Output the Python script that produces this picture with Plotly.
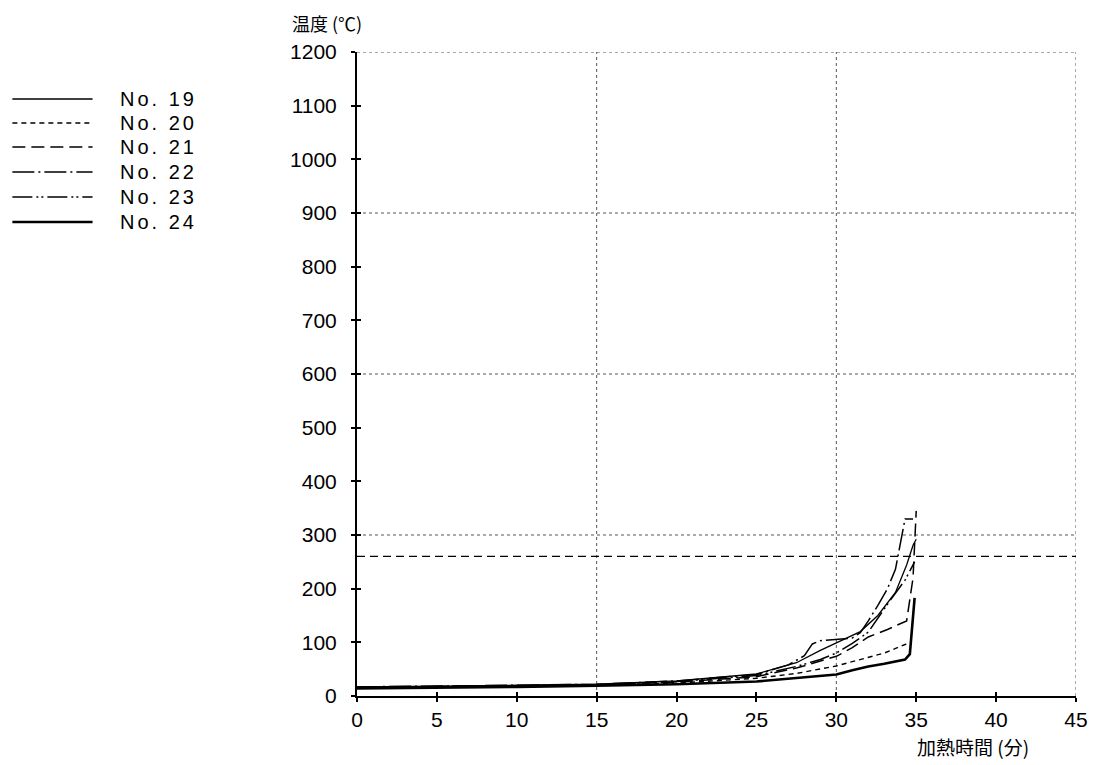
import plotly.graph_objects as go

# ---- data ----
names = ["No. 19", "No. 20", "No. 21", "No. 22", "No. 23", "No. 24"]

t19 = [0, 5, 10, 15, 20, 25, 27.5, 29, 30.6, 31.5, 32.6, 33.7, 34.4, 34.8, 35.0]
T19 = [17, 18, 20, 22, 28, 41, 62, 85, 107, 120, 150, 193, 244, 281, 292]

t20 = [0, 5, 10, 15, 20, 25, 27.5, 30, 31, 32, 33, 34.3, 34.7]
T20 = [15, 16, 18, 20, 24, 33, 42, 56, 64, 72, 80, 96, 100]

t21 = [0, 5, 10, 15, 20, 25, 27.5, 30, 31, 32, 33.2, 34.4, 34.8, 35.0]
T21 = [16, 17, 19, 21, 26, 36, 52, 74, 90, 110, 124, 140, 220, 345]

t22 = [0, 5, 10, 15, 20, 25, 27, 28, 28.5, 29, 30, 31, 31.5, 32, 32.6, 33.2, 33.7, 34.1, 34.3, 34.8]
T22 = [17, 18, 20, 22, 28, 40, 58, 75, 97, 103, 105, 108, 118, 140, 169, 200, 236, 300, 330, 330]

t23 = [0, 5, 10, 15, 20, 25, 27.5, 29, 30, 31, 32, 33.2, 34.3, 34.9]
T23 = [16, 17, 19, 21, 27, 38, 55, 68, 80, 98, 119, 171, 216, 250]

t24 = [0, 5, 10, 15, 20, 25, 27.5, 30, 31, 32, 33, 34.3, 34.6, 34.9]
T24 = [14, 15, 17, 19, 22, 27, 33, 40, 48, 55, 60, 68, 78, 183]

ref_t = [0, 45]
ref_T = [260, 260]

series_t = [t19, t20, t21, t22, t23, t24]
series_T = [T19, T20, T21, T22, T23, T24]

x_ticks = [0, 5, 10, 15, 20, 25, 30, 35, 40, 45]
y_ticks = [0, 100, 200, 300, 400, 500, 600, 700, 800, 900, 1000, 1100, 1200]
grid_x = [15, 30, 45]
grid_y = [300, 600, 900, 1200]

# ---- styles ----
dashes = ["solid", "5px,4px", "13px,6px", "22px,4px,2px,4px",
          "20px,4px,2px,3px,2px,4px", "solid"]
widths = [1.3, 1.4, 1.5, 1.5, 1.5, 2.6]

OFF = 8                      # browser body margin
SCR_W, SCR_H = 1100, 765
X0, X1 = 357, 1083           # screen x of plot left / right
Y0, Y1 = 52, 696             # screen y of plot top / bottom
W, H = SCR_W - OFF, SCR_H - OFF
ML, MR, MT, MB = X0 - OFF, SCR_W - X1, Y0 - OFF, SCR_H - Y1
PW = X1 - X0
PH = Y1 - Y0


def px(xs):
    return (xs - X0) / PW


def py(ys):
    return (Y1 - ys) / PH


NUM_FONT = "Liberation Sans Narrow, Arial Narrow, Liberation Sans, Arial, sans-serif"
CJK_FONT = "Noto Sans CJK JP, Noto Sans CJK SC, sans-serif"

fig = go.Figure()

# reference line
fig.add_trace(go.Scatter(x=ref_t, y=ref_T, mode="lines", showlegend=False,
                         line=dict(color="black", width=1.3, dash="8px,5px"),
                         hoverinfo="skip"))

for n, tt, TT, d, w in zip(names, series_t, series_T, dashes, widths):
    fig.add_trace(go.Scatter(x=tt, y=TT, mode="lines", name=n, showlegend=False,
                             line=dict(color="black", width=w, dash=d)))

# dummy trace for overlay axes (inside ticks)
fig.add_trace(go.Scatter(x=[None], y=[None], xaxis="x2", yaxis="y2",
                         showlegend=False, hoverinfo="skip"))

shapes = []
for gx in grid_x:
    shapes.append(dict(type="line", xref="x", yref="paper", x0=gx, x1=gx, y0=0, y1=1,
                       line=dict(color="#555", width=1, dash="dot"), layer="below"))
for gy in grid_y:
    shapes.append(dict(type="line", xref="paper", yref="y", x0=0, x1=1, y0=gy, y1=gy,
                       line=dict(color="#555", width=1, dash="dot"), layer="below"))

# manual legend
annotations = []
row_y = [99, 123, 147, 172, 197, 222]
for n, d, w, ry in zip(names, dashes, widths, row_y):
    shapes.append(dict(type="line", xref="paper", yref="paper",
                       x0=px(9), x1=px(90), y0=py(ry), y1=py(ry),
                       line=dict(color="black", width=w, dash=d)))
    annotations.append(dict(xref="paper", yref="paper", x=px(116), y=py(ry),
                            xanchor="left", yanchor="middle", showarrow=False,
                            text='<span style="letter-spacing:3px">' + n + '</span>',
                            font=dict(family=NUM_FONT, size=20, color="black")))

annotations.append(dict(xref="paper", yref="paper", x=px(289), y=py(23),
                        xanchor="left", yanchor="middle", showarrow=False,
                        text="温度 (℃)", font=dict(family=CJK_FONT, size=18, color="black")))
annotations.append(dict(xref="paper", yref="paper", x=px(920), y=py(746),
                        xanchor="left", yanchor="middle", showarrow=False,
                        text="加熱時間 (分)", font=dict(family=CJK_FONT, size=19, color="black")))

axis_common = dict(showgrid=False, zeroline=False, color="black")

fig.update_layout(
    width=W, height=H,
    margin=dict(l=ML, r=MR, t=MT, b=MB, pad=0),
    paper_bgcolor="white", plot_bgcolor="white",
    showlegend=False,
    xaxis=dict(range=[0, 45], tickvals=x_ticks, ticktext=[str(v) for v in x_ticks],
               ticks="outside", ticklen=4, tickwidth=1.5, tickcolor="black",
               showline=True, linewidth=2, linecolor="black",
               tickfont=dict(family=NUM_FONT, size=21, color="black"),
               ticklabelstandoff=0, **axis_common),
    yaxis=dict(range=[0, 1200], tickvals=y_ticks, ticktext=[str(v) for v in y_ticks],
               ticks="outside", ticklen=4, tickwidth=1.5, tickcolor="black",
               showline=True, linewidth=2, linecolor="black",
               tickfont=dict(family=NUM_FONT, size=21, color="black"),
               ticklabelstandoff=10, **axis_common),
    xaxis2=dict(range=[0, 45], overlaying="x", anchor="y2", tickvals=x_ticks,
                ticks="inside", ticklen=4, tickwidth=1.5, tickcolor="black",
                showticklabels=False, showline=False, **axis_common),
    yaxis2=dict(range=[0, 1200], overlaying="y", anchor="x2", tickvals=y_ticks,
                ticks="inside", ticklen=4, tickwidth=1.5, tickcolor="black",
                showticklabels=False, showline=False, **axis_common),
    shapes=shapes,
    annotations=annotations,
)

fig.write_html("out.html")
